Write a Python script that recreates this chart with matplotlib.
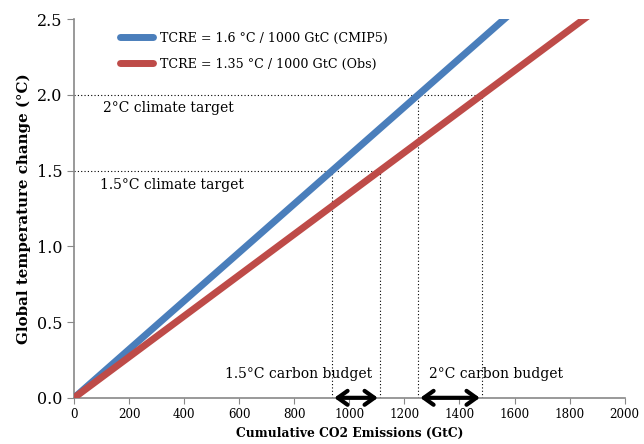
import matplotlib.pyplot as plt

# emissions range and TCRE values
Emissions = [0, 2000]
Tcre = [1.6, 1.35]
Labels = ["TCRE = 1.6 °C / 1000 GtC (CMIP5)", "TCRE = 1.35 °C / 1000 GtC (Obs)"]
Colors = ['#4a7ebb', '#be4b48']
Targets = [1.5, 2.0]
TargetLabels = ["1.5°C climate target", "2°C climate target"]
BudgetLabels = ["1.5°C carbon budget", "2°C carbon budget"]

plt.rcParams['font.family'] = ['DejaVu Serif']

fig = plt.figure(figsize=(6.44, 4.44), dpi=100)
ax = fig.add_axes([0.115, 0.104, 0.855, 0.853])

# the two TCRE lines
for Run in range(len(Tcre)):
    xs = Emissions
    ys = [e * Tcre[Run] / 1000.0 for e in xs]
    ax.plot(xs, ys, color=Colors[Run], linewidth=5, solid_capstyle='round', label=Labels[Run], zorder=3)

# dotted target lines and budget arrows
for i in range(len(Targets)):
    T = Targets[i]
    lo = T / Tcre[0] * 1000.0
    hi = T / Tcre[1] * 1000.0
    ax.plot([0, hi], [T, T], color='black', linestyle=(0, (1, 2)), linewidth=0.8)
    ax.plot([lo, lo], [0, T], color='black', linestyle=(0, (1, 2)), linewidth=0.8)
    ax.plot([hi, hi], [0, T], color='black', linestyle=(0, (1, 2)), linewidth=0.8)
    ax.annotate('', xy=(lo, 0.0), xytext=(hi, 0.0),
                arrowprops=dict(arrowstyle='<->,head_length=0.35,head_width=0.25', color='black',
                                lw=3, mutation_scale=20, shrinkA=1.5, shrinkB=1.5),
                annotation_clip=False, zorder=5)

ax.text(94, 1.38, TargetLabels[0], fontsize=10)
ax.text(105, 1.885, TargetLabels[1], fontsize=10)
ax.text(550, 0.13, BudgetLabels[0], fontsize=10)
ax.text(1290, 0.13, BudgetLabels[1], fontsize=10)

ax.set_xlim(0, 2000)
ax.set_ylim(0, 2.5)
ax.set_xticks(range(0, 2001, 200))
ax.set_yticks([0, 0.5, 1.0, 1.5, 2.0, 2.5])
ax.set_yticklabels(["0.0", "0.5", "1.0", "1.5", "2.0", "2.5"])
ax.tick_params(axis='x', labelsize=8.6, color='#888888', length=4)
ax.tick_params(axis='y', labelsize=11.5, color='#888888', length=5)

for s in ['top', 'right']:
    ax.spines[s].set_visible(False)
for s in ['left', 'bottom']:
    ax.spines[s].set_color('#888888')
    ax.spines[s].set_linewidth(1.2)

ax.set_xlabel("Cumulative CO2 Emissions (GtC)", fontsize=8.8, fontweight='bold')
ax.set_ylabel("Global temperature change (°C)", fontsize=10.8, fontweight='bold')

ax.legend(loc='upper left', bbox_to_anchor=(0.084, 0.967), frameon=False, fontsize=9.1,
          handlelength=2.6, handletextpad=0.55, labelspacing=1.05, borderpad=0, borderaxespad=0)

fig.savefig('out.png', dpi=100)
